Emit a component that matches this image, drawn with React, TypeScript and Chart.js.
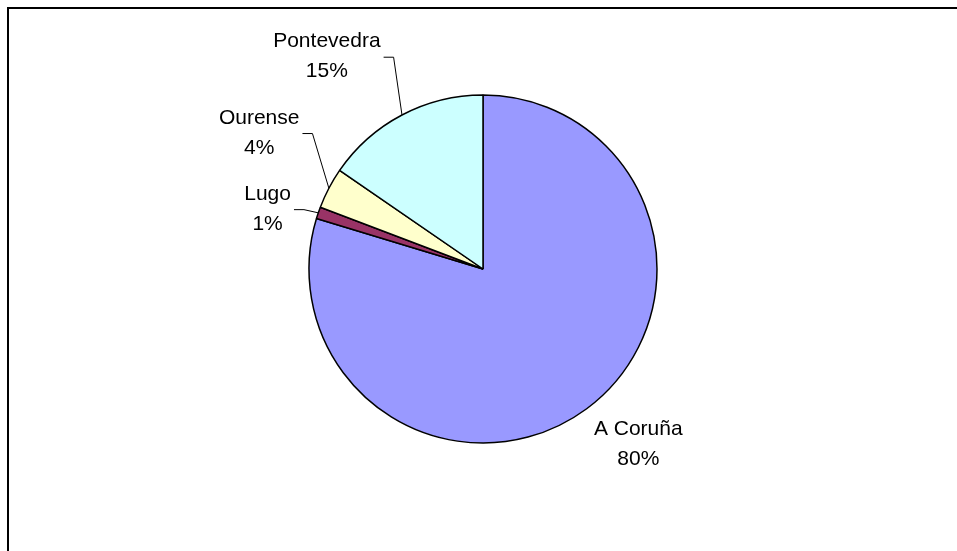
import React, { useEffect, useRef } from "react";
import { Chart, registerables } from "chart.js";

Chart.register(...registerables);

const provinces = ["A Coruña", "Lugo", "Ourense", "Pontevedra"];
const shares = [79.6, 1.1, 3.8, 15.4];
const sliceColors = ["#9999FF", "#993366", "#FFFFCC", "#CCFFFF"];

const FONT = '21px "Liberation Sans", Arial, sans-serif';
const LINE_GAP = 30;
// label placement relative to the slice's outer edge at its mid-angle
const labelOffsets = [
  { dx: 51.6, dy: 26.5, leader: false },
  { dx: -50.7, dy: -13.2, leader: true },
  { dx: -69.7, dy: -64.7, leader: true },
  { dx: -75.1, dy: -67.8, leader: true },
];

const labelPlugin = {
  id: "pieLabels",
  beforeDraw(chart: any) {
    const ctx = chart.ctx;
    ctx.save();
    ctx.fillStyle = "#ffffff";
    ctx.fillRect(0, 0, chart.width, chart.height);
    ctx.strokeStyle = "#000000";
    ctx.lineWidth = 2;
    ctx.strokeRect(8, 8, chart.width + 10, chart.height + 10);
    ctx.restore();
  },
  afterDatasetsDraw(chart: any) {
    const ctx = chart.ctx;
    const meta = chart.getDatasetMeta(0);
    const values = chart.data.datasets[0].data as number[];
    const total = values.reduce((a, b) => a + b, 0);
    ctx.save();
    ctx.font = FONT;
    ctx.fillStyle = "#000000";
    ctx.strokeStyle = "#000000";
    ctx.lineWidth = 1;
    ctx.textAlign = "center";
    ctx.textBaseline = "alphabetic";
    meta.data.forEach((arc: any, i: number) => {
      const { x, y, startAngle, endAngle, outerRadius } = arc.getProps(
        ["x", "y", "startAngle", "endAngle", "outerRadius"],
        true
      );
      const mid = (startAngle + endAngle) / 2;
      const ex = x + Math.cos(mid) * outerRadius;
      const ey = y + Math.sin(mid) * outerRadius;
      const off = labelOffsets[i];
      const lx = ex + off.dx;
      const ly = ey + off.dy;
      const name = chart.data.labels[i] as string;
      const pct = Math.round((values[i] / total) * 100) + "%";
      ctx.fillText(name, lx, ly);
      ctx.fillText(pct, lx, ly + LINE_GAP);
      if (off.leader) {
        const w = Math.max(ctx.measureText(name).width, ctx.measureText(pct).width);
        const right = lx + w / 2;
        ctx.beginPath();
        ctx.moveTo(right + 3, ly + 10);
        ctx.lineTo(right + 13, ly + 10);
        ctx.lineTo(ex, ey);
        ctx.stroke();
      }
    });
    ctx.restore();
  },
};

export default function App() {
  const canvasRef = useRef<HTMLCanvasElement | null>(null);

  useEffect(() => {
    const canvas = canvasRef.current;
    if (!canvas) return;
    const chart = new Chart(canvas, {
      type: "pie",
      data: {
        labels: provinces,
        datasets: [
          {
            data: shares,
            backgroundColor: sliceColors,
            borderColor: "#000000",
            borderWidth: 1.5,
          },
        ],
      },
      options: {
        responsive: false,
        devicePixelRatio: 1,
        animation: false,
        radius: 174,
        layout: { padding: { left: 100, right: 91, top: 80, bottom: 93 } },
        plugins: {
          legend: { display: false },
          tooltip: { enabled: false },
          title: { display: false },
        },
      } as any,
      plugins: [labelPlugin],
    });
    return () => chart.destroy();
  }, []);

  return (
    <div
      style={{
        position: "fixed",
        left: 0,
        top: 0,
        width: 957,
        height: 551,
        background: "#ffffff",
        overflow: "hidden",
      }}
    >
      <canvas ref={canvasRef} width={957} height={551} style={{ display: "block" }} />
    </div>
  );
}
